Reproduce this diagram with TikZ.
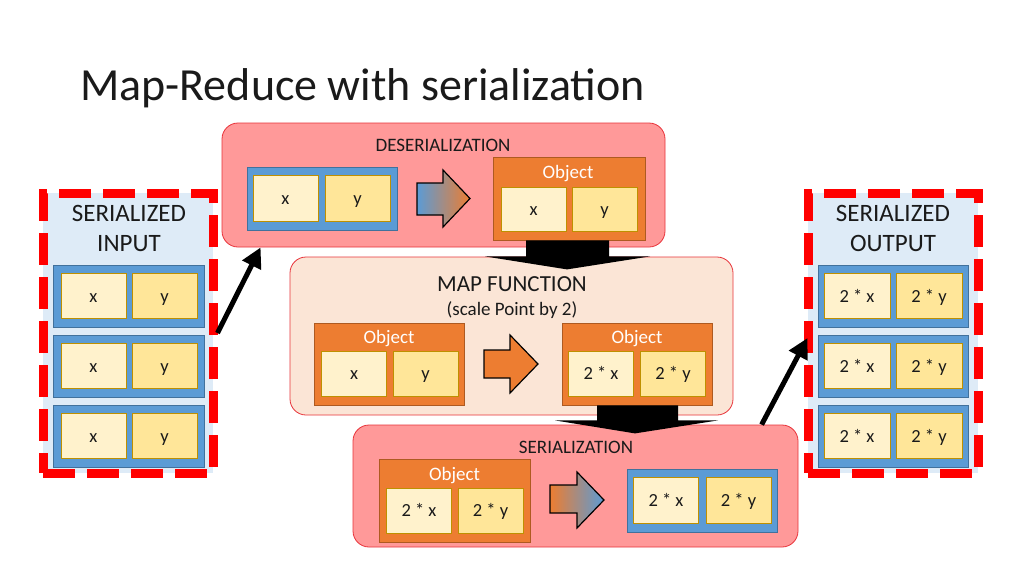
\documentclass[tikz,border=0pt]{standalone}
\usepackage{fontspec}
\setmainfont{Carlito}
\usetikzlibrary{arrows.meta,calc}
\definecolor{bluefill}{HTML}{5B9BD5}
\definecolor{blueborder}{HTML}{41719C}
\definecolor{orangefill}{HTML}{ED7D31}
\definecolor{orangeborder}{HTML}{AE5A21}
\definecolor{cellx}{HTML}{FFF2CC}
\definecolor{celly}{HTML}{FFE699}
\definecolor{cellborder}{HTML}{BF9000}
\definecolor{pinkbox}{HTML}{FF9999}
\definecolor{peach}{HTML}{FBE5D6}
\definecolor{stageborder}{HTML}{E8333A}
\definecolor{lightbg}{HTML}{DEEBF7}
\definecolor{txt}{HTML}{1A1A1A}
\definecolor{dashred}{HTML}{FF0000}
\begin{document}
\begin{tikzpicture}[x=1pt,y=-1pt,
  cell/.style={draw=cellborder, line width=0.8pt, minimum width=65pt, minimum height=45pt, inner sep=0pt, text height=12pt, text depth=0pt, font=\fontsize{18.5}{20}\selectfont, text=txt},
  cx/.style={cell, fill=cellx},
  cy/.style={cell, fill=celly},
  bluebox/.style={draw=blueborder, line width=0.8pt, fill=bluefill, minimum width=150pt, minimum height=63pt, inner sep=0pt},
  objbox/.style={draw=orangeborder, fill=orangefill, line width=0.8pt, minimum width=151pt, minimum height=83pt, inner sep=0pt},
  stage/.style={draw=stageborder, line width=0.8pt, rounded corners=16pt, inner sep=0pt},
  dashbox/.style={draw=dashred, line width=9pt, dash pattern=on 32pt off 12pt, fill=lightbg, minimum width=170pt, minimum height=280pt, inner sep=0pt},
  lbl/.style={text=txt, inner sep=0pt},
  objlbl/.style={text=white, inner sep=0pt, font=\fontsize{19}{21}\selectfont},
  sidelbl/.style={lbl, align=center, font=\fontsize{25}{30}\selectfont},
  blockarrow/.style={fill=black},
  flowarrow/.style={draw=black, line width=1.2pt, line join=miter},
  diag/.style={line width=5pt, -{Triangle[length=20pt,width=20pt]}}
]
\useasboundingbox (0,0) rectangle (1024,576);
\fill[white] (0,0) rectangle (1024,576);

% title
\node[anchor=base west, inner sep=0pt, text=txt, font=\fontsize{46}{50}\selectfont] (title) at (80,100) {Map-Reduce with serialization};

% ---------- deserialization stage
\node[stage, fill=pinkbox, minimum width=443pt, minimum height=124pt] (deser) at (443.5,185) {};
\node[lbl, font=\fontsize{19}{21}\selectfont] (desertext) at (443,145) {DESERIALIZATION};
\node[bluebox] (d1) at (322,198.5) {};
\node[cx, minimum height=46pt] (d1x) at (285.5,198) {x};
\node[cy, minimum height=46pt] (d1y) at (357.5,198) {y};
\shadedraw[flowarrow, left color=bluefill, right color=orangefill]
  (417,183) -- (443,183) -- (443,170) -- (470,198.5) -- (443,227) -- (443,215) -- (417,215) -- cycle;
\node[objbox, minimum width=152pt] (o1) at (569,198.5) {};
\node[objlbl] (o1lbl) at (568,174) {Object};
\node[cx, minimum height=44pt] (o1x) at (533.5,209) {x};
\node[cy, minimum height=44pt] (o1y) at (604.5,209) {y};

% ---------- map stage
\node[stage, fill=peach, minimum width=443pt, minimum height=158pt] (map) at (511.5,336) {};
\node[lbl, font=\fontsize{23}{25}\selectfont] (maptext) at (512,284) {MAP FUNCTION};
\node[lbl, font=\fontsize{19}{21}\selectfont] (mapsub) at (512,310) {(scale Point by 2)};
\node[objbox, minimum width=150pt, minimum height=82pt] (o2) at (389,364) {};
\node[objlbl] (o2lbl) at (389,339) {Object};
\node[cx] (o2x) at (354,373.5) {x};
\node[cy] (o2y) at (425.5,373.5) {y};
\filldraw[flowarrow, fill=orangefill]
  (484,350) -- (510,350) -- (510,335) -- (538,364) -- (510,393) -- (510,378) -- (484,378) -- cycle;
\node[objbox, minimum width=150pt, minimum height=82pt] (o3) at (637,364) {};
\node[objlbl] (o3lbl) at (637,339) {Object};
\node[cx] (o3x) at (601,373.5) {2 * x};
\node[cy] (o3y) at (673,373.5) {2 * y};

% ---------- serialization stage
\node[stage, fill=pinkbox, minimum width=445pt, minimum height=122pt] (ser) at (575.5,486) {};
\node[lbl, font=\fontsize{19}{21}\selectfont] (sertext) at (576,447) {SERIALIZATION};
\node[objbox] (o4) at (454.5,500.5) {};
\node[objlbl] (o4lbl) at (454.5,476) {Object};
\node[cx] (o4x) at (419,510.5) {2 * x};
\node[cy] (o4y) at (490.5,510.5) {2 * y};
\shadedraw[flowarrow, left color=orangefill, right color=bluefill]
  (550,485) -- (577,485) -- (577,472) -- (604,500) -- (577,528) -- (577,513) -- (550,513) -- cycle;
\node[bluebox] (s1) at (702,500.5) {};
\node[cx, minimum height=46pt] (s1x) at (666,500) {2 * x};
\node[cy, minimum height=46pt] (s1y) at (738.5,500) {2 * y};

% ---------- serialized input
\node[dashbox] (inbox) at (128,333) {};
\node[sidelbl] (intext) at (129,228) {SERIALIZED\\INPUT};
\foreach \i/\yy in {1/296,2/366,3/436}{
  \node[bluebox, minimum width=151pt, minimum height=62pt] (in\i) at (128.5,\yy) {};
  \node[cx] (in\i x) at (93.5,\yy) {x};
  \node[cy] (in\i y) at (164.5,\yy) {y};
}

% ---------- serialized output
\node[dashbox] (outbox) at (893,333) {};
\node[sidelbl] (outtext) at (893,228) {SERIALIZED\\OUTPUT};
\foreach \i/\yy in {1/296,2/366,3/436}{
  \node[bluebox, minimum width=150pt, minimum height=62pt] (out\i) at (893,\yy) {};
  \node[cx, minimum width=66pt] (out\i x) at (857,\yy) {2 * x};
  \node[cy, minimum width=66pt] (out\i y) at (929,\yy) {2 * y};
}

% ---------- black block arrows between stages
\fill[blockarrow] ($(o1.south)+(-43,0)$) -- ++(0,16) -- ++(-41,0) -- ($(o1.south)+(-2,29)$)
  -- ($(o1.south)+(81,16)$) -- ++(-41,0) -- ++(0,-16) -- cycle;
\fill[blockarrow] ($(o3.south)+(-40,0)$) -- ++(0,15) -- ++(-42,0) -- ($(o3.south)+(-2,28)$)
  -- ($(o3.south)+(81,15)$) -- ++(-40,0) -- ++(0,-15) -- cycle;

% ---------- diagonal arrows
\draw[diag] (inbox.east) -- ($(deser.south west)+(39,0)$);
\draw[diag] ($(ser.north west)+(409,0)$) -- ($(outbox.west)+(4,5)$);
\end{tikzpicture}
\end{document}
